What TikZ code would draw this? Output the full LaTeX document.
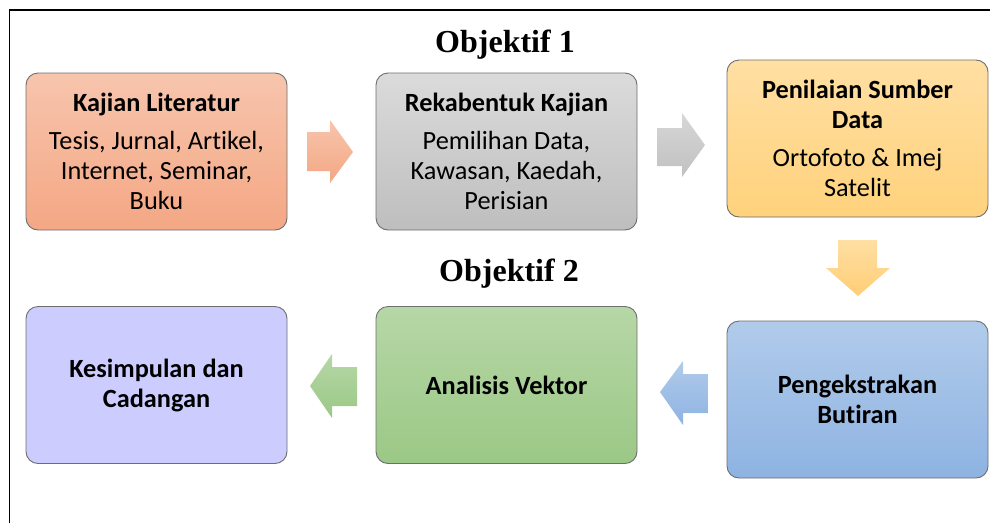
\documentclass[tikz,border=0pt]{standalone}
\usepackage{fontspec}
\setmainfont{Liberation Serif}
\newfontfamily\carlito[Ligatures={NoCommon,NoDiscretionary,NoRare}]{Carlito}
\usetikzlibrary{positioning}
\definecolor{bordc}{HTML}{6E6E6E}
\definecolor{orT}{HTML}{F7C5AD}\definecolor{orB}{HTML}{F4A784}
\definecolor{grT}{HTML}{DBDBDB}\definecolor{grB}{HTML}{BEBEBE}
\definecolor{yeT}{HTML}{FFDFA3}\definecolor{yeB}{HTML}{FFD27C}
\definecolor{viC}{HTML}{CCCCFF}
\definecolor{gnT}{HTML}{B6D7A6}\definecolor{gnB}{HTML}{9BC886}
\definecolor{blT}{HTML}{B1CBEA}\definecolor{blB}{HTML}{8EB3E2}
\tikzset{
  box/.style={rectangle, rounded corners=12pt, draw=bordc, line width=0.9pt,
    minimum width=261pt, minimum height=157pt, inner sep=0pt, align=center,
    font=\carlito\fontsize{26.3}{30}\selectfont},
  objtitle/.style={font=\bfseries\fontsize{32}{38}\selectfont, anchor=base},
  blockarrow/.style={draw=none}
}
\begin{document}
\begin{tikzpicture}[x=1pt,y=-1pt]
\useasboundingbox (0,0) rectangle (990,523);
\draw[line width=1.3pt] (9.5,523) -- (9.5,10) -- (990,10);

\node[objtitle] (o1) at (505,52) {Objektif 1};
\node[objtitle] (o2) at (509,281) {Objektif 2};

\node[box, top color=orT, bottom color=orB] (b1) at (156.5,151.5)
  {\textbf{Kajian Literatur}\\[8pt] Tesis, Jurnal, Artikel,\\ Internet, Seminar,\\ Buku};
\node[box, top color=grT, bottom color=grB] (b2) at (506.5,151.5)
  {\textbf{Rekabentuk Kajian}\\[8pt] Pemilihan Data,\\ Kawasan, Kaedah,\\ Perisian};
\node[box, top color=yeT, bottom color=yeB] (b3) at (857.5,138.5)
  {\textbf{Penilaian Sumber}\\ \textbf{Data}\\[8pt] Ortofoto \& Imej\\ Satelit};
\node[box, fill=viC] (b4) at (156.5,385)
  {\textbf{Kesimpulan dan}\\ \textbf{Cadangan}};
\node[box, top color=gnT, bottom color=gnB] (b5) at (506.5,385)
  {\textbf{Analisis Vektor}};
\node[box, top color=blT, bottom color=blB] (b6) at (857.5,399.5)
  {\textbf{Pengekstrakan}\\ \textbf{Butiran}};

% block arrows
\shade[blockarrow, top color=orT, bottom color=orB]
  (307,132) -- (330,132) -- (330,120) -- (353,152) -- (330,183) -- (330,171) -- (307,171) -- cycle;
\shade[blockarrow, top color=grT!85!grB, bottom color=grB!90!grT]
  (657,128) -- (682,128) -- (682,113) -- (705,145) -- (682,177) -- (682,166) -- (657,166) -- cycle;
\shade[blockarrow, top color=yeT, bottom color=yeB!95!orange]
  (838,240) -- (877,240) -- (877,268) -- (890,268) -- (858,296) -- (826,268) -- (838,268) -- cycle;
\shade[blockarrow, top color=blT, bottom color=blB]
  (708,374) -- (683,374) -- (683,361) -- (660,392) -- (683,425) -- (683,413) -- (708,413) -- cycle;
\shade[blockarrow, top color=gnT, bottom color=gnB]
  (357,367) -- (332,367) -- (332,354) -- (310,386) -- (332,418) -- (332,406) -- (357,406) -- cycle;
\end{tikzpicture}
\end{document}
